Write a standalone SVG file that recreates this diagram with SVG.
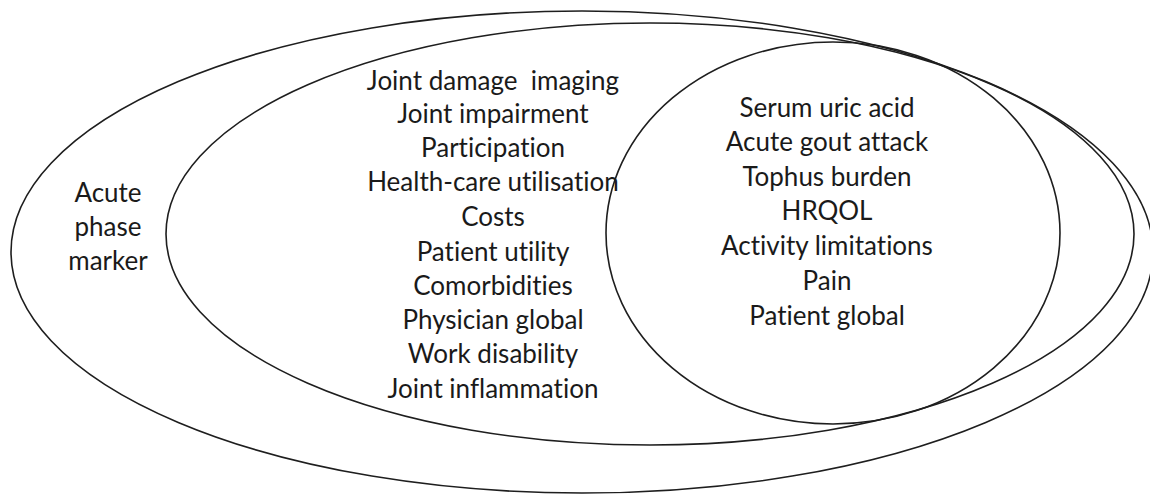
<svg xmlns="http://www.w3.org/2000/svg" width="1150" height="494" viewBox="0 0 1150 494">
<style>
.ring{fill:none;stroke:#1e1e1e;stroke-width:1.6}
.t{font-family:Lato,"Open Sans","DejaVu Sans",sans-serif;font-size:26px;fill:#1a1a1a;text-anchor:middle;font-variant-ligatures:none;font-feature-settings:"liga" 0,"dlig" 0}
</style>
<rect width="1150" height="494" fill="#ffffff"/>
<g id="outer">
<ellipse class="ring" cx="582" cy="252" rx="571" ry="241"/>
<text class="t" x="108" y="202">Acute</text>
<text class="t" x="108" y="236">phase</text>
<text class="t" x="108" y="270">marker</text>
</g>
<g id="middle">
<ellipse class="ring" cx="650" cy="234" rx="484" ry="211"/>
<text class="t" x="493" y="90" style="white-space:pre">Joint damage  imaging</text>
<text class="t" x="493" y="123">Joint impairment</text>
<text class="t" x="493" y="157">Participation</text>
<text class="t" x="493" y="191">Health-care utilisation</text>
<text class="t" x="493" y="226">Costs</text>
<text class="t" x="493" y="261">Patient utility</text>
<text class="t" x="493" y="295">Comorbidities</text>
<text class="t" x="493" y="329">Physician global</text>
<text class="t" x="493" y="363">Work disability</text>
<text class="t" x="493" y="398">Joint inflammation</text>
</g>
<g id="inner">
<ellipse class="ring" cx="833" cy="233" rx="227" ry="191"/>
<text class="t" x="827" y="117">Serum uric acid</text>
<text class="t" x="827" y="151">Acute gout attack</text>
<text class="t" x="827" y="186">Tophus burden</text>
<text class="t" x="827" y="220">HRQOL</text>
<text class="t" x="827" y="255">Activity limitations</text>
<text class="t" x="827" y="290">Pain</text>
<text class="t" x="827" y="325">Patient global</text>
</g>
<g id="connectors"></g>
</svg>
